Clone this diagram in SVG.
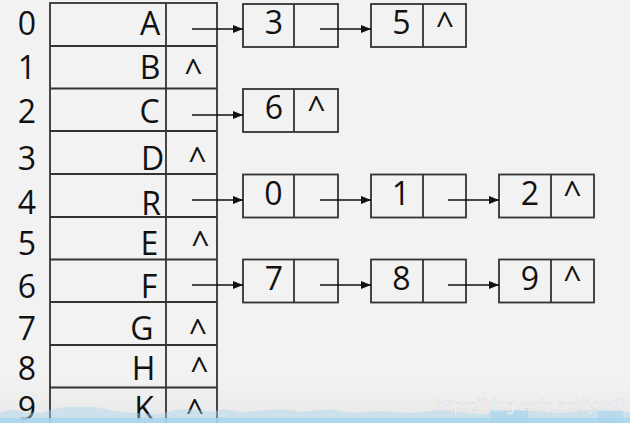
<svg xmlns="http://www.w3.org/2000/svg" width="630" height="423" viewBox="0 0 630 423">
<defs>
<marker id="ah" viewBox="0 0 10 8" refX="10" refY="4" markerWidth="10" markerHeight="8" markerUnits="userSpaceOnUse" orient="auto">
<path d="M0,0 L10,4 L0,8 Z" fill="#111"/>
</marker>
<linearGradient id="fade" x1="0" y1="0" x2="0" y2="1">
<stop offset="0" stop-color="#f2f2f2" stop-opacity="0"/>
<stop offset="1" stop-color="#e6e6e6" stop-opacity="1"/>
</linearGradient>
<style>
.ln{fill:none;stroke:#333;stroke-width:1.8}
.bx{fill:none;stroke:#333;stroke-width:1.8}
.t{font-family:"Open Sans","Noto Sans","DejaVu Sans",sans-serif;font-size:32px;fill:#111;text-anchor:middle}
.ar{stroke:#111;stroke-width:1.3;fill:none;marker-end:url(#ah)}
.wm{font-family:"Liberation Sans",Arial,sans-serif;font-size:16px;fill:#ffffff;stroke:#cfcfcf;stroke-width:0.4}
</style>
</defs>
<rect width="630" height="423" fill="#f2f2f2"/>
<rect x="0" y="365" width="630" height="58" fill="url(#fade)"/>
<g id="table">
<rect class="bx" x="50" y="3" width="167" height="440"/>
<line class="ln" x1="166" y1="3" x2="166" y2="423"/>
<line class="ln" x1="50" y1="46" x2="217" y2="46"/>
<line class="ln" x1="50" y1="88.5" x2="217" y2="88.5"/>
<line class="ln" x1="50" y1="131" x2="217" y2="131"/>
<line class="ln" x1="50" y1="174" x2="217" y2="174"/>
<line class="ln" x1="50" y1="217" x2="217" y2="217"/>
<line class="ln" x1="50" y1="259.5" x2="217" y2="259.5"/>
<line class="ln" x1="50" y1="302" x2="217" y2="302"/>
<line class="ln" x1="50" y1="345" x2="217" y2="345"/>
<line class="ln" x1="50" y1="387.5" x2="217" y2="387.5"/>
</g>
<g id="index">
<text class="t" x="27" y="35">0</text>
<text class="t" x="27" y="79">1</text>
<text class="t" x="27" y="123">2</text>
<text class="t" x="27" y="170">3</text>
<text class="t" x="27" y="214">4</text>
<text class="t" x="27" y="255">5</text>
<text class="t" x="27" y="298">6</text>
<text class="t" x="27" y="340">7</text>
<text class="t" x="27" y="380">8</text>
<text class="t" x="27" y="420">9</text>
</g>
<g id="row0"><text class="t" x="150" y="35">A</text></g>
<g id="row1"><text class="t" x="150" y="79">B</text><text class="t" x="193.5" y="83">^</text></g>
<g id="row2"><text class="t" x="149.5" y="123">C</text></g>
<g id="row3"><text class="t" x="152.5" y="170">D</text><text class="t" x="197.5" y="171">^</text></g>
<g id="row4"><text class="t" x="151" y="215">R</text></g>
<g id="row5"><text class="t" x="149.5" y="255">E</text><text class="t" x="200.5" y="255">^</text></g>
<g id="row6"><text class="t" x="149" y="298">F</text></g>
<g id="row7"><text class="t" x="142" y="340">G</text><text class="t" x="198" y="343">^</text></g>
<g id="row8"><text class="t" x="143.5" y="380">H</text><text class="t" x="199.5" y="381">^</text></g>
<g id="row9"><text class="t" x="144" y="420">K</text><text class="t" x="195" y="423">^</text></g>
<g id="n3"><rect class="bx" x="243" y="4" width="95" height="43"/><line class="ln" x1="294" y1="4" x2="294" y2="47"/><text class="t" x="274" y="34">3</text></g>
<g id="n5"><rect class="bx" x="371" y="4" width="95" height="43"/><line class="ln" x1="423" y1="4" x2="423" y2="47"/><text class="t" x="401.5" y="34">5</text><text class="t" x="445" y="36">^</text></g>
<g id="n6"><rect class="bx" x="243" y="89" width="95" height="43"/><line class="ln" x1="294" y1="89" x2="294" y2="132"/><text class="t" x="274" y="119">6</text><text class="t" x="316.5" y="120">^</text></g>
<g id="n0"><rect class="bx" x="243" y="174.5" width="95" height="43"/><line class="ln" x1="294" y1="174.5" x2="294" y2="217.5"/><text class="t" x="273.5" y="205">0</text></g>
<g id="n1"><rect class="bx" x="371" y="174.5" width="95" height="43"/><line class="ln" x1="423" y1="174.5" x2="423" y2="217.5"/><text class="t" x="401" y="205">1</text></g>
<g id="n2"><rect class="bx" x="499" y="174.5" width="95" height="43"/><line class="ln" x1="551" y1="174.5" x2="551" y2="217.5"/><text class="t" x="530" y="205">2</text><text class="t" x="572.5" y="205">^</text></g>
<g id="n7"><rect class="bx" x="243" y="259.5" width="95" height="43"/><line class="ln" x1="294" y1="259.5" x2="294" y2="302.5"/><text class="t" x="274" y="290">7</text></g>
<g id="n8"><rect class="bx" x="371" y="259.5" width="95" height="43"/><line class="ln" x1="423" y1="259.5" x2="423" y2="302.5"/><text class="t" x="401.5" y="290">8</text></g>
<g id="n9"><rect class="bx" x="499" y="259.5" width="95" height="43"/><line class="ln" x1="551" y1="259.5" x2="551" y2="302.5"/><text class="t" x="530" y="290">9</text><text class="t" x="572.5" y="290">^</text></g>
<g id="connectors">
<line class="ar" x1="192" y1="29" x2="243" y2="29"/>
<line class="ar" x1="320" y1="29" x2="371" y2="29"/>
<line class="ar" x1="192" y1="115" x2="243" y2="115"/>
<line class="ar" x1="192" y1="200" x2="243" y2="200"/>
<line class="ar" x1="320" y1="200" x2="371" y2="200"/>
<line class="ar" x1="448" y1="200" x2="499" y2="200"/>
<line class="ar" x1="192" y1="285" x2="243" y2="285"/>
<line class="ar" x1="320" y1="285" x2="371" y2="285"/>
<line class="ar" x1="448" y1="285" x2="499" y2="285"/>
</g>
<g id="skyline" fill="#a9d6ee">
<path d="M0,423 L0,413 Q10,408 20,411 Q30,414 45,412 L52,409 Q75,405 100,408 L110,410 Q120,412 135,413 L160,414 L175,410 Q190,408 210,412 L225,409 L240,412 L270,410 Q285,408 300,412 L330,409 L350,413 L380,411 L410,413 L440,410 L480,414 L520,410 L560,413 L600,409 L630,412 L630,423 Z" opacity="0.45"/>
<rect x="0" y="418" width="630" height="5" opacity="0.85"/>
<rect x="490" y="410" width="38" height="13" opacity="0.7"/>
<rect x="598" y="411" width="25" height="12" opacity="0.6"/>
</g>
<text class="wm" x="436" y="411">https://blog.csdn.net/tyustli</text>
</svg>
